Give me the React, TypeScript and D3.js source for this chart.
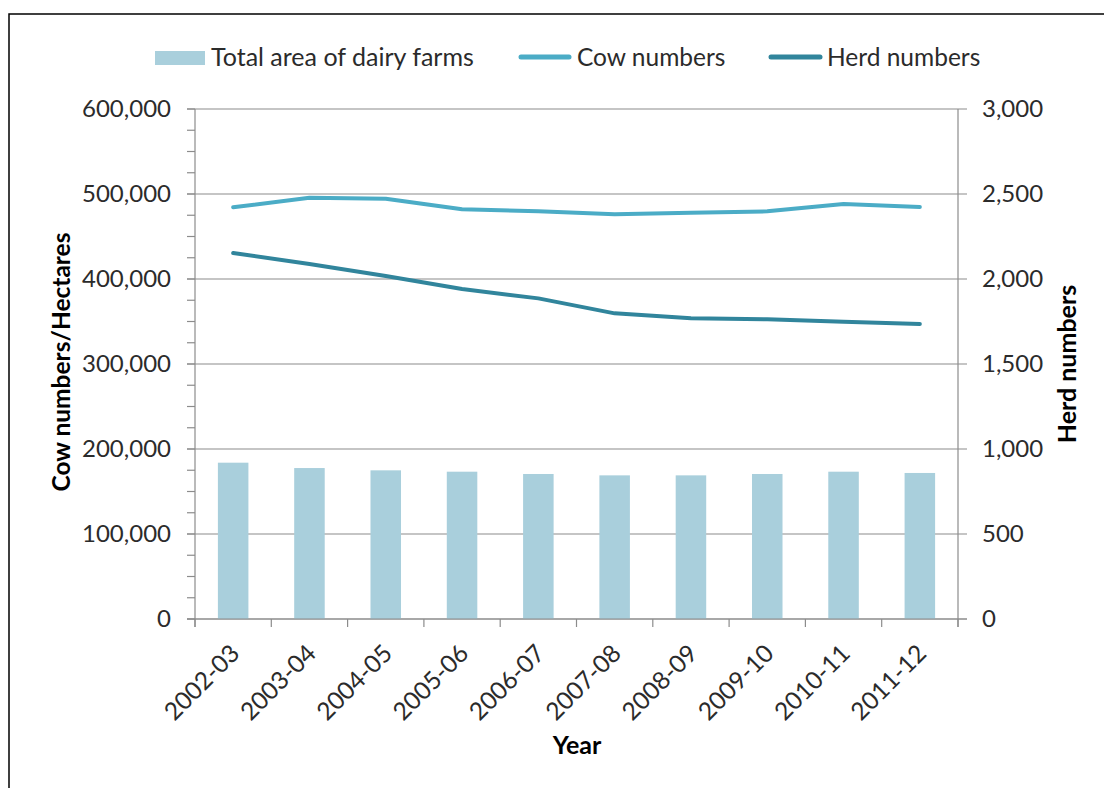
import React from "react";
import * as d3 from "d3";

const years = ["2002-03","2003-04","2004-05","2005-06","2006-07","2007-08","2008-09","2009-10","2010-11","2011-12"];
const areaHectares = [183900,177600,174900,173300,170600,169000,169000,170600,173300,171800];
const cowNumbers = [484300,495600,494500,482000,479600,476100,478000,479600,488200,484700];
const herdNumbers = [2153,2088,2018,1941,1886,1798,1769,1763,1749,1735];
const leftTicks = [0,100000,200000,300000,400000,500000,600000];
const leftMinorTicks = d3.range(0, 600001, 25000);
const rightTicks = [0,500,1000,1500,2000,2500,3000];

const FONT = "Lato, 'Open Sans', sans-serif";
const BAR = "#A9CFDC";
const COW = "#4BACC6";
const HERD = "#31859C";
const GRID = "#8C8C8C";
const TEXT = "#2B2B2B";

export default function App() {
  const left = 195, right = 958, top = 109, bottom = 619;
  const x = d3.scaleBand<string>().domain(years).range([left, right]).padding(0);
  const bw = x.bandwidth();
  const yL = d3.scaleLinear().domain([0, 600000]).range([bottom, top]);
  const yR = d3.scaleLinear().domain([0, 3000]).range([bottom, top]);
  const fmt = d3.format(",");
  const cx = (c: string) => (x(c) as number) + bw / 2;

  const cowLine = d3.line<number>().x((_, i) => cx(years[i])).y((d) => yL(d))(cowNumbers) as string;
  const herdLine = d3.line<number>().x((_, i) => cx(years[i])).y((d) => yR(d))(herdNumbers) as string;

  const boundaries = years.map((c) => x(c) as number).concat([right]);

  return (
    <svg width={1104} height={788} style={{ position: "absolute", left: 0, top: 0, background: "#fff" }} fontFamily={FONT}>
      <rect x={0} y={0} width={1104} height={788} fill="#fff" />
      <rect x={9} y={14} width={1200} height={900} fill="none" stroke="#000" strokeWidth={1.5} />

      {/* gridlines */}
      {leftTicks.map((t) => (
        <line key={"g" + t} x1={187} x2={967} y1={yL(t)} y2={yL(t)} stroke={GRID} strokeWidth={1.2} />
      ))}
      {leftMinorTicks.map((t) => (
        <line key={"m" + t} x1={187} x2={left} y1={yL(t)} y2={yL(t)} stroke={GRID} strokeWidth={1.2} />
      ))}

      {/* bars */}
      {areaHectares.map((v, i) => (
        <rect key={"b" + i} x={(x(years[i]) as number) + bw * 0.3} width={bw * 0.4} y={yL(v)} height={bottom - yL(v)} fill={BAR} />
      ))}

      {/* axes */}
      <line x1={left} x2={left} y1={top} y2={bottom + 8} stroke={GRID} strokeWidth={1.2} />
      <line x1={right} x2={right} y1={top} y2={bottom + 8} stroke={GRID} strokeWidth={1.2} />
      <line x1={187} x2={967} y1={bottom} y2={bottom} stroke={GRID} strokeWidth={1.2} />
      {boundaries.map((b, i) => (
        <line key={"xt" + i} x1={b} x2={b} y1={bottom} y2={bottom + 8} stroke={GRID} strokeWidth={1.2} />
      ))}

      {/* lines */}
      <path d={cowLine} fill="none" stroke={COW} strokeWidth={4} strokeLinecap="round" strokeLinejoin="round" />
      <path d={herdLine} fill="none" stroke={HERD} strokeWidth={4} strokeLinecap="round" strokeLinejoin="round" />

      {/* left tick labels */}
      {leftTicks.map((t) => (
        <text key={"lt" + t} x={171} y={yL(t)} dy="0.35em" textAnchor="end" fontSize={24} fill={TEXT}>{fmt(t)}</text>
      ))}
      {/* right tick labels */}
      {rightTicks.map((t) => (
        <text key={"rt" + t} x={982} y={yR(t)} dy="0.35em" textAnchor="start" fontSize={24} fill={TEXT}>{fmt(t)}</text>
      ))}
      {/* x tick labels */}
      {years.map((c) => (
        <text key={"xl" + c} transform={`translate(${cx(c) + 8},${bottom + 36}) rotate(-45)`} textAnchor="end" fontSize={24.5} fill={TEXT}>{c}</text>
      ))}

      {/* axis titles */}
      <text transform={`translate(70,${(top + bottom) / 2 - 2}) rotate(-90)`} textAnchor="middle" fontSize={24.5} fontWeight="bold" fill="#000">Cow numbers/Hectares</text>
      <text transform={`translate(1076,${(top + bottom) / 2}) rotate(-90)`} textAnchor="middle" fontSize={25} fontWeight="bold" fill="#000">Herd numbers</text>
      <text x={577} y={754} textAnchor="middle" fontSize={25} fontWeight="bold" fill="#000">Year</text>

      {/* legend */}
      <rect x={155} y={51} width={50} height={14} fill={BAR} />
      <text x={211} y={57} dy="0.35em" fontSize={25} fill={TEXT}>Total area of dairy farms</text>
      <line x1={521} x2={569} y1={57} y2={57} stroke={COW} strokeWidth={5} strokeLinecap="round" />
      <text x={577} y={57} dy="0.35em" fontSize={24.5} fill={TEXT}>Cow numbers</text>
      <line x1={771} x2={820} y1={57} y2={57} stroke={HERD} strokeWidth={5} strokeLinecap="round" />
      <text x={827} y={57} dy="0.35em" fontSize={24.5} fill={TEXT}>Herd numbers</text>
    </svg>
  );
}
